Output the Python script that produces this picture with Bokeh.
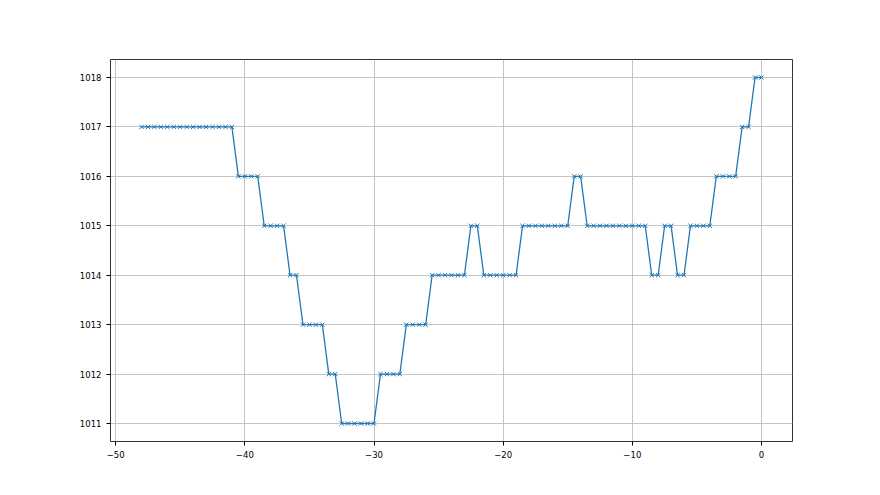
from bokeh.plotting import figure
from bokeh.models import FixedTicker, Range1d
from bokeh.embed import file_html
from bokeh.resources import INLINE

# hours relative to now, every half hour
hours = [-48 + 0.5 * i for i in range(97)]
# pressure (hPa) in runs
runs = [(1017, 15), (1016, 4), (1015, 4), (1014, 2), (1013, 4), (1012, 2),
        (1011, 6), (1012, 4), (1013, 4), (1014, 6), (1015, 2), (1014, 6),
        (1015, 8), (1016, 2), (1015, 10), (1014, 2), (1015, 2), (1014, 2),
        (1015, 4), (1016, 4), (1017, 2), (1018, 2)]
pressure = [v for v, n in runs for _ in range(n)]

x_ticks = [-50, -40, -30, -20, -10, 0]
y_ticks = [1011, 1012, 1013, 1014, 1015, 1016, 1017, 1018]

p = figure(width=864, height=479, output_backend="svg", toolbar_location=None,
           x_range=Range1d(-50.4, 2.4), y_range=Range1d(1010.636, 1018.364),
           min_border_left=110, min_border_right=72, min_border_top=59,
           min_border_bottom=38)

p.line(hours, pressure, line_color="#1f77b4", line_width=1.3)
p.scatter(hours, pressure, marker="x", size=6, line_color="#1f77b4", line_width=1)

p.xaxis.ticker = FixedTicker(ticks=x_ticks)
p.yaxis.ticker = FixedTicker(ticks=y_ticks)
for ax in (p.xaxis[0], p.yaxis[0]):
    ax.major_label_text_font = "DejaVu Sans"
    ax.major_label_text_font_size = "8.5px"
    ax.major_label_text_color = "black"
    ax.axis_line_color = None
    ax.major_tick_line_color = "black"
    ax.major_tick_out = 4
    ax.major_tick_in = 0
    ax.minor_tick_line_color = None
p.outline_line_color = "#333333"
p.outline_line_width = 1
p.xgrid.grid_line_color = "#c4c4c4"
p.ygrid.grid_line_color = "#c4c4c4"
p.xgrid.grid_line_width = 1
p.ygrid.grid_line_width = 1
p.background_fill_color = "white"
p.border_fill_color = "white"

open("out.html", "w").write(file_html(p, INLINE))
